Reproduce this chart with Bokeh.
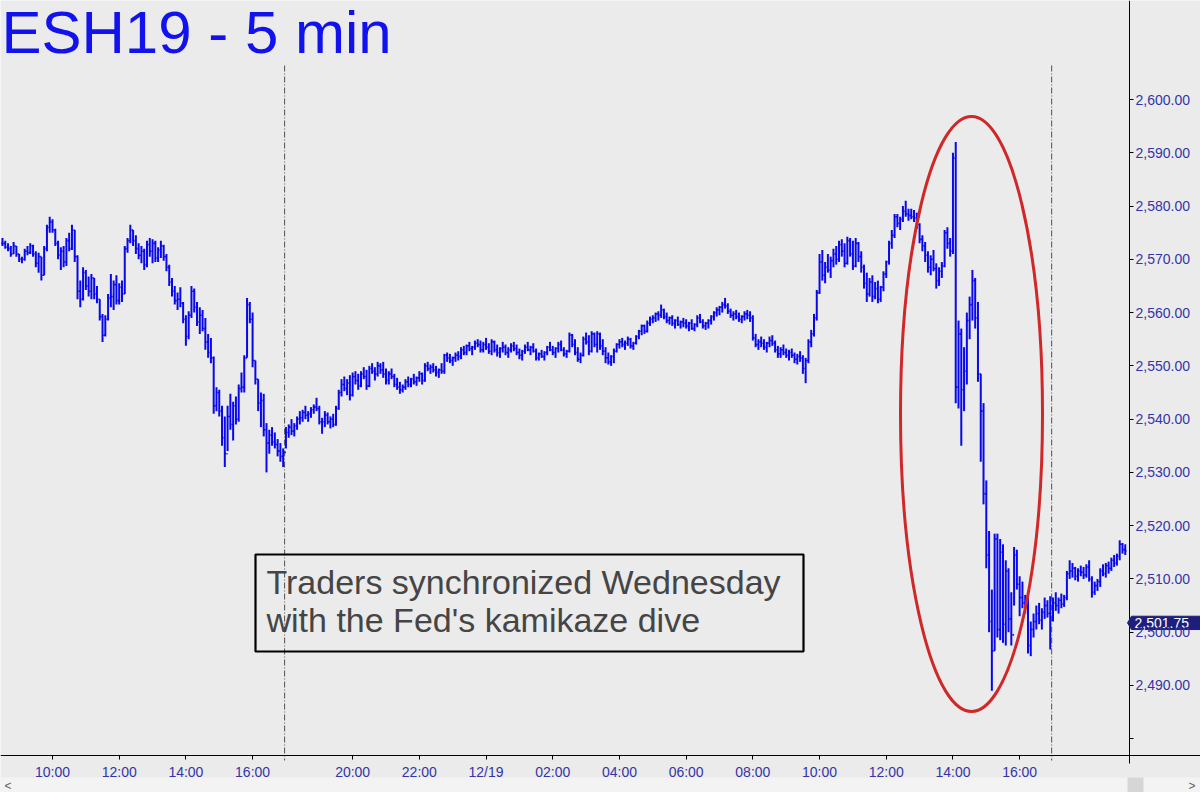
from bokeh.plotting import figure
from bokeh.models import Range1d, FixedTicker, NumeralTickFormatter, LinearAxis, BoxAnnotation
from bokeh.core.properties import value
from bokeh.embed import file_html
from bokeh.resources import INLINE

# ---------------- data: ESH19 5-minute bars (ET) ----------------
# x axis = trading hours since 12/18 00:00 with the daily 17:00-18:00 halt removed
BAR_H = 1.0 / 12.0

# Session A: 12/18 08:30 .. 16:55
s1_start = 8.5
s1_high = [2574, 2573.5, 2573, 2572.5, 2573.25, 2572.5, 2571, 2570.5, 2572, 2572.5,
           2573, 2572.75, 2571.5, 2571.25, 2570.5, 2572.5, 2576.5, 2578, 2577.5, 2575.75,
           2573.5, 2572.25, 2572.5, 2574, 2575, 2576.5, 2575.5, 2570.75, 2566, 2568.5,
           2568, 2566.75, 2567.25, 2566.5, 2565, 2562.5, 2559.75, 2559.5, 2563.5, 2567.25,
           2566, 2567, 2565.5, 2566, 2572.5, 2574, 2576.5, 2575.5, 2574.5, 2573,
           2572.5, 2572, 2573.5, 2574, 2573.75, 2573.5, 2572.25, 2573.5, 2572.75, 2571,
           2569, 2566.5, 2565, 2563.75, 2564.75, 2562, 2559.5, 2560.25, 2565, 2564.5,
           2562, 2561, 2560.5, 2559, 2556, 2555.25, 2551.75, 2546, 2545.5, 2542.5,
           2540.5, 2542.5, 2544.75, 2543.25, 2544.25, 2546.5, 2548.75, 2552, 2562.75, 2562,
           2560, 2551, 2547.5, 2545, 2544.75, 2539.25, 2538, 2538.5, 2537.5, 2536.25,
           2535.5, 2534.5]
s1_low = [2572.5, 2572, 2571.5, 2570.5, 2571, 2570.5, 2569.5, 2569.25, 2569.75, 2570.75,
          2571, 2570.5, 2568.5, 2567.5, 2566, 2567, 2571.5, 2575, 2575, 2572.5,
          2570, 2568, 2568.5, 2568.75, 2571.5, 2571.75, 2569.5, 2562.5, 2561, 2562.25,
          2564.25, 2563, 2562.5, 2562.5, 2561.75, 2558.5, 2554.5, 2555.5, 2558.5, 2561,
          2560.5, 2561.5, 2561.5, 2562, 2563.5, 2571.25, 2573, 2572.5, 2571, 2570,
          2569.25, 2568, 2568.5, 2570.5, 2569.25, 2569.5, 2569.5, 2570.25, 2569.75, 2567.75,
          2565, 2563, 2561.5, 2560.5, 2561, 2558, 2553.75, 2555, 2559, 2560,
          2557.5, 2556, 2556.5, 2553, 2551.5, 2550.5, 2541, 2541.5, 2540.5, 2535,
          2531, 2534, 2538, 2536, 2539, 2539.5, 2545, 2545, 2551.5, 2558,
          2549.75, 2546.5, 2541.5, 2538.5, 2536.75, 2530, 2533.5, 2535, 2534.5, 2533,
          2532, 2531]
s1_close = [2573, 2572.25, 2572, 2571, 2572.5, 2571, 2570, 2570, 2571.5, 2571.25,
            2572.5, 2571, 2569.25, 2570.5, 2567, 2572, 2576, 2577, 2575.5, 2573,
            2570.75, 2571.5, 2569.5, 2573.5, 2572, 2575.5, 2570.5, 2564, 2562.5, 2567.5,
            2565, 2564, 2566.5, 2563.5, 2562.5, 2559.25, 2555.75, 2558.75, 2562.75, 2563,
            2565.25, 2562.25, 2564.75, 2563.5, 2572, 2573.5, 2575.5, 2573.5, 2572, 2570.75,
            2571.5, 2569, 2572.75, 2571.5, 2573, 2570.25, 2571.75, 2572.5, 2570.5, 2568.5,
            2565.75, 2564, 2562.25, 2562.5, 2561.75, 2558.75, 2555.5, 2559.5, 2564, 2561,
            2558.25, 2559.5, 2557, 2554.5, 2552.5, 2551.5, 2542.5, 2545, 2541.5, 2536.5,
            2533.5, 2540.5, 2539, 2542.5, 2540, 2545.75, 2546, 2551.5, 2561.5, 2558.75,
            2551, 2547.5, 2543, 2543.5, 2538, 2535.5, 2537, 2535.75, 2535.25, 2534,
            2533, 2533.75]

# Session B: 12/18 18:00 .. 12/19 16:55
s2_start = 17.0
s2_high = [2538.5, 2539, 2540, 2539.25, 2540.5, 2541.5, 2541.75, 2542.5, 2541.5, 2542.25,
           2542.75, 2544, 2542.5, 2540.25, 2541.5, 2541.25, 2540.5, 2541, 2542.5, 2545.5,
           2547.5, 2548, 2547.5, 2548.25, 2548.75, 2549, 2548.5, 2549, 2549.75, 2549.25,
           2550, 2550.5, 2549.75, 2550.75, 2550.5, 2550.75, 2549.5, 2549, 2549.5, 2548.5,
           2547.75, 2547, 2546.5, 2547.5, 2548, 2547.75, 2548.5, 2548, 2549, 2548.75,
           2550.5, 2550.75, 2550.25, 2550.5, 2550, 2549.5, 2550.5, 2552.25, 2552.5, 2552.25,
           2551.75, 2552.5, 2552.75, 2553.5, 2553.75, 2554, 2554.5, 2553.75, 2554.75, 2555,
           2554.75, 2554.5, 2555.25, 2554.25, 2555, 2554.75, 2554, 2553.5, 2554.5, 2554,
           2553.5, 2554.25, 2554.5, 2554, 2553.25, 2553, 2554, 2554.5, 2553.75, 2554.25,
           2553.25, 2552.5, 2553, 2552.75, 2553.75, 2554.5, 2553.75, 2553.5, 2554.5, 2554.75,
           2553.5, 2553, 2556.25, 2556, 2555, 2553.5, 2552.5, 2555.5, 2556.25, 2555.75,
           2556.5, 2556.25, 2556.5, 2556.25, 2555, 2553.5, 2552.5, 2552, 2553.25, 2554.25,
           2555, 2555.25, 2554.75, 2555.5, 2555.25, 2554.5, 2555.75, 2556.75, 2557.75, 2557.75,
           2558.5, 2559.25, 2559.5, 2560, 2560.25, 2561.5, 2560.75, 2560, 2559.25, 2559.5,
           2558.75, 2559.25, 2558.5, 2559, 2558.75, 2558.25, 2558.75, 2558, 2559.5, 2559.75,
           2558.75, 2558.25, 2558.75, 2559.5, 2560.25, 2561, 2561.25, 2562, 2562.75, 2561.75,
           2560.75, 2560.25, 2560.5, 2560, 2559.5, 2560.25, 2560.5, 2560.25, 2559.5, 2556,
           2555, 2555.5, 2555, 2554.5, 2555.5, 2555.75, 2554.75, 2553.75, 2553.5, 2554,
           2553.25, 2553, 2553.25, 2552.5, 2552.25, 2552.75, 2552, 2551.5, 2555, 2556.75,
           2559.75, 2564.25, 2571, 2571.75, 2569.5, 2571, 2570.5, 2572, 2572.5, 2573.5,
           2573.75, 2573, 2574.25, 2574, 2573.5, 2574, 2573.25, 2571.5, 2569, 2567.5,
           2566.5, 2567, 2565.75, 2566, 2565, 2567.75, 2569.75, 2573.5, 2575.5, 2578.5,
           2578.5, 2578, 2580, 2581, 2579.5, 2579.5, 2579.25, 2578.75, 2576.75, 2574.5,
           2573.25, 2571.5, 2570.75, 2571.75, 2569.25, 2568.5, 2569.5, 2575.5, 2576, 2574,
           2590, 2592, 2558.5, 2557, 2553.5, 2560, 2563, 2568, 2566.5, 2562,
           2548.5, 2543, 2528.5, 2519, 2508, 2518.5, 2518.5, 2517.5, 2516.5, 2513.5,
           2512, 2507.5, 2516, 2515.5, 2510.5, 2509.5, 2507, 2506.5, 2502, 2503.5,
           2505, 2505.5, 2504.5, 2506.5, 2506, 2506.75]
s2_low = [2534.5, 2536.5, 2537, 2536.75, 2538, 2539, 2539.5, 2540, 2539.5, 2540.25,
          2541, 2541.5, 2539, 2537.25, 2538.5, 2539, 2538.25, 2538.5, 2538.75, 2541.75,
          2544.25, 2545.25, 2544.5, 2543.5, 2544.25, 2546.5, 2545.5, 2546, 2547.5, 2545.5,
          2546, 2548.5, 2547.25, 2548, 2548.5, 2547.75, 2546.5, 2546.5, 2547.5, 2546,
          2545.5, 2544.75, 2545, 2545.5, 2546, 2546, 2546.5, 2546.25, 2547, 2546.5,
          2547, 2549, 2548.5, 2548.75, 2548, 2547.75, 2548.5, 2548.5, 2550.75, 2550.5,
          2550, 2550.75, 2551, 2551.25, 2552, 2552, 2552.75, 2552, 2553, 2553.5,
          2552.5, 2552.5, 2553, 2552.25, 2552, 2552.5, 2551.75, 2551.5, 2552.5, 2552,
          2551.5, 2552.5, 2552.75, 2552, 2551.25, 2551, 2552.25, 2552.75, 2552, 2552.5,
          2551, 2551, 2551.5, 2551, 2552, 2552.75, 2552, 2551.5, 2552.5, 2552.75,
          2551.75, 2551.5, 2552.5, 2553.5, 2552, 2550.75, 2550.5, 2551.75, 2554, 2552,
          2552.5, 2553.5, 2552.5, 2553, 2552, 2550.5, 2550.25, 2550, 2550.5, 2552.5,
          2553.25, 2553.5, 2553, 2553.75, 2553.25, 2553, 2554, 2555, 2555.75, 2556,
          2556.25, 2557.5, 2558, 2558.25, 2558.5, 2559, 2558.75, 2558, 2557.75, 2557.5,
          2557, 2557.5, 2557, 2557.25, 2557, 2556.5, 2556.75, 2556.5, 2557.25, 2558,
          2557, 2556.75, 2557, 2557.75, 2558.5, 2559.25, 2559.5, 2560, 2560.75, 2559.75,
          2559, 2558.5, 2558.75, 2558.25, 2558, 2558.5, 2558.75, 2558.25, 2554.75, 2553.5,
          2553, 2553.5, 2553, 2552.5, 2553.5, 2553.75, 2552.5, 2551.5, 2551.5, 2552,
          2551.5, 2551, 2551.5, 2550.5, 2550.25, 2550.75, 2548.5, 2546.75, 2550.5, 2553.5,
          2555.5, 2558.5, 2563.5, 2566, 2565.5, 2567.5, 2566.5, 2568.5, 2569, 2569.5,
          2570.5, 2568.5, 2569, 2570.5, 2568, 2568.5, 2569.5, 2567.5, 2564.5, 2562,
          2563, 2562, 2562.5, 2561.75, 2562, 2564, 2566.5, 2569, 2572, 2574,
          2576, 2575.5, 2577, 2578, 2577.25, 2577.5, 2577, 2575.75, 2573, 2571.5,
          2569.5, 2567.5, 2567, 2567.75, 2564.5, 2565, 2566.5, 2568.5, 2572, 2570.5,
          2571, 2543, 2542, 2535, 2541.5, 2546.5, 2555, 2558.5, 2557, 2547,
          2532, 2524, 2512, 2500, 2489, 2496.5, 2499, 2498.5, 2498, 2497.5,
          2500, 2497.5, 2505, 2508, 2503, 2504.5, 2503.5, 2496, 2495.5, 2499,
          2500.5, 2501.5, 2500.5, 2502.5, 2502.75, 2496.75]
s2_close = [2537.5, 2538.5, 2537.75, 2538.75, 2540, 2540.25, 2541.25, 2540.75, 2541, 2541.75,
            2542.25, 2542, 2539.5, 2539.5, 2540.75, 2539.5, 2540, 2539, 2542, 2545,
            2546.5, 2545.75, 2546.75, 2544.5, 2548, 2547.25, 2546.25, 2548.5, 2548, 2546.25,
            2549.5, 2549, 2548.5, 2550, 2549.25, 2548.5, 2547.25, 2548.5, 2548, 2546.5,
            2546, 2545.5, 2546, 2547, 2546.5, 2547.5, 2547, 2547.75, 2548.5, 2547.25,
            2550, 2549.5, 2549.75, 2549.25, 2548.75, 2549.25, 2549, 2552, 2551.5, 2551,
            2551.5, 2552, 2551.75, 2553, 2552.5, 2553.75, 2553.25, 2553.5, 2554.25, 2554,
            2553, 2554, 2553.5, 2552.75, 2554.5, 2553, 2552.5, 2553.25, 2553.5, 2552.5,
            2553, 2553.75, 2553.25, 2552.5, 2552, 2552.75, 2553.5, 2553, 2553.5, 2552.75,
            2551.5, 2552.25, 2551.75, 2552.5, 2553.5, 2553, 2552.5, 2553.25, 2554, 2553,
            2552.25, 2552.75, 2555.75, 2554, 2552.5, 2551.25, 2552, 2555, 2554.5, 2552.75,
            2556, 2554, 2556, 2553.75, 2552.75, 2551.5, 2550.75, 2551.75, 2552.75, 2554,
            2554.5, 2554, 2554.25, 2555, 2553.75, 2554.25, 2555.5, 2556.5, 2557.5, 2556.5,
            2558, 2558.75, 2559, 2559.75, 2559.5, 2560.5, 2559.25, 2558.5, 2559, 2558,
            2558.5, 2557.75, 2558.25, 2558, 2557.5, 2558, 2557, 2557.75, 2559, 2558.25,
            2557.5, 2558, 2558.5, 2559.25, 2560, 2560.5, 2561, 2561.5, 2561.25, 2560.25,
            2559.5, 2559.75, 2559.25, 2558.75, 2559.25, 2559.75, 2559.5, 2559, 2555.25, 2554,
            2554.5, 2554.25, 2553.5, 2554.25, 2554.75, 2554.25, 2553, 2552.25, 2553, 2552.5,
            2552, 2552.5, 2552, 2551.25, 2551.75, 2551.5, 2549.5, 2551, 2554.5, 2556,
            2559, 2563.75, 2569.5, 2567, 2568.5, 2568, 2569.75, 2571, 2570, 2572.75,
            2571.5, 2569.25, 2573.5, 2571, 2568.75, 2573, 2570.5, 2568.5, 2565.5, 2563.5,
            2565.75, 2563, 2564.5, 2562.5, 2564.75, 2567.25, 2569.5, 2573, 2574.5, 2578,
            2576.75, 2577.5, 2579, 2578.5, 2578.25, 2578, 2577.75, 2576.5, 2573.75, 2572.5,
            2570.75, 2568.5, 2570, 2568.25, 2566, 2567.75, 2568.75, 2575, 2573, 2571.5,
            2589, 2546, 2556, 2545.5, 2549, 2558.5, 2561.5, 2566, 2559, 2548.5,
            2541.5, 2526, 2514.5, 2502, 2496.5, 2517.5, 2500.5, 2515, 2501.5, 2511.5,
            2502.5, 2499.5, 2514.5, 2509, 2506.5, 2505.5, 2506, 2497.5, 2500.5, 2502,
            2503.5, 2502.25, 2503.75, 2505, 2503.5, 2506]

# Session C: 12/19 18:00 ..
s3_start = 40.0
s3_high = [2506.5, 2507.5, 2506.5, 2507.25, 2507, 2511.5, 2513.5, 2513, 2512.25, 2512,
           2512.5, 2512.25, 2512.75, 2513.5, 2510.5, 2509.5, 2510, 2512, 2512.75, 2513,
           2513.25, 2514, 2514.5, 2514.75, 2517.25, 2516.75, 2516.5]
s3_low = [2502, 2504, 2503.5, 2504.5, 2504.75, 2506, 2510, 2510.25, 2509.75, 2509.5,
          2510.5, 2510, 2510.25, 2509.5, 2506.5, 2507, 2507.75, 2508.5, 2510.5, 2510.25,
          2511, 2511.5, 2512.25, 2512.5, 2513.5, 2514.75, 2514.5]
s3_close = [2505.5, 2505, 2506, 2505.25, 2506.5, 2511, 2511.5, 2512, 2510.5, 2511.5,
            2511.25, 2510.75, 2512.25, 2510, 2507.5, 2508.75, 2509.5, 2511.5, 2511, 2512.5,
            2512, 2513.5, 2513, 2514.25, 2516.5, 2515.5, 2515.25]

session_breaks = [16.96, 39.96]
last_price = 2501.75
last_price_text = "2,501.75"

time_ticks = [10, 12, 14, 16, 19, 21, 23, 25, 27, 29, 31, 33, 35, 37, 39]
time_labels = ["10:00", "12:00", "14:00", "16:00", "20:00", "22:00", "12/19", "02:00",
               "04:00", "06:00", "08:00", "10:00", "12:00", "14:00", "16:00"]
price_ticks = [2480, 2490, 2500, 2510, 2520, 2530, 2540, 2550, 2560, 2570, 2580, 2590, 2600]

title_text = "ESH19 - 5 min"
note_lines = ["Traders synchronized Wednesday", "with the Fed's kamikaze dive"]

# ---------------- assemble bars ----------------
t, hi, lo, op, cl = [], [], [], [], []
prev = s1_close[0]
for start, H, L, C in [(s1_start, s1_high, s1_low, s1_close),
                       (s2_start, s2_high, s2_low, s2_close),
                       (s3_start, s3_high, s3_low, s3_close)]:
    for i in range(len(H)):
        t.append(start + i * BAR_H)
        hi.append(H[i]); lo.append(L[i]); cl.append(C[i]); op.append(prev)
        prev = C[i]

# helpers that place annotations at reference-pixel spots
def X(px):
    return 10 + (px - 52) / 33.35

def Y(py):
    return 2600 - (py - 99) / 5.327

BG = "#ebebeb"
BAR = "#0808ea"
AXC = "#3434a8"
FONT = "Liberation Sans"
AXIS_X_PX = 1129     # price scale line
AXIS_Y_PX = 754.5    # time scale line

p = figure(frame_width=1200, frame_height=792,
           x_range=Range1d(X(0), X(1200)), y_range=Range1d(Y(792), Y(0)),
           x_axis_location=None, y_axis_location=None,
           output_backend="svg", toolbar_location=None,
           min_border_left=0, min_border_top=0, min_border_right=0, min_border_bottom=0,
           background_fill_color=BG, border_fill_color=BG, outline_line_color=None)
p.xgrid.visible = False
p.ygrid.visible = False

# axes drawn at fixed spots inside the frame
xax = LinearAxis(fixed_location=Y(AXIS_Y_PX), ticker=FixedTicker(ticks=time_ticks),
                 major_label_overrides={tk: lb for tk, lb in zip(time_ticks, time_labels)})
yax = LinearAxis(fixed_location=X(AXIS_X_PX), ticker=FixedTicker(ticks=price_ticks),
                 formatter=NumeralTickFormatter(format="0,0.00"),
                 major_label_overrides={2480: ""})
for ax in (xax, yax):
    ax.axis_line_color = "black"
    ax.major_tick_line_color = "black"
    ax.major_tick_in = 0
    ax.major_tick_out = 4
    ax.minor_tick_line_color = None
    ax.major_label_text_color = AXC
    ax.major_label_text_font = FONT
    ax.major_label_text_font_size = "14px"
yax.major_label_standoff = 2
yax.axis_line_color = None
xax.major_label_standoff = 5
p.add_layout(xax, "below")
p.add_layout(yax, "right")
# price-scale line stops just below the time scale
p.segment(x0=[X(AXIS_X_PX)], y0=[Y(0)], x1=[X(AXIS_X_PX)], y1=[Y(763)],
          line_color="black", line_width=1)

# session separators
p.segment(x0=session_breaks, y0=[Y(65)] * 2, x1=session_breaks, y1=[Y(760)] * 2,
          line_color="#505050", line_width=1, line_dash="6 2 1 2")

# OHLC bars
tick = 0.036
p.segment(x0=t, y0=lo, x1=t, y1=hi, line_color=BAR, line_width=2)
p.segment(x0=[v - tick for v in t], y0=op, x1=t, y1=op, line_color=BAR, line_width=1.6)
p.segment(x0=t, y0=cl, x1=[v + tick for v in t], y1=cl, line_color=BAR, line_width=1.6)

# red ellipse around the Fed drop
p.ellipse(x=[X(971)], y=[Y(413.5)], width=[142 / 33.35], height=[595 / 5.327],
          fill_color=None, line_color="#d02828", line_width=3)

# text box
p.add_layout(BoxAnnotation(left=X(255), right=X(803), top=Y(554), bottom=Y(651),
                           fill_color=None, line_color="black", line_width=2.2,
                           line_alpha=1))
p.text(x=[X(266)] * 2, y=[Y(595 - 13.3), Y(633 - 13.3)], text=note_lines,
       text_color="#454545", text_font=value(FONT), text_font_size="34px",
       text_baseline="alphabetic")

# title
p.text(x=[X(1)], y=[Y(55 - 23)], text=[title_text], text_color="#1212ee",
       text_font=value(FONT), text_font_size="60px", text_baseline="alphabetic")

# last price flag on the price scale
fl, fr, ftip = X(1131), X(1200), X(1127)
p.patch(x=[ftip, fl, fr, fr, fl], y=[last_price, last_price + 1.25, last_price + 1.25,
                                      last_price - 1.25, last_price - 1.25],
        fill_color="#1e1e7c", line_color="#1e1e7c")
p.text(x=[X(1134)], y=[last_price], text=[last_price_text], text_color="white",
       text_font=value(FONT), text_font_size="14px", text_baseline="middle")

# scrollbar strip at the bottom of the chart window
p.quad(left=[X(0)], right=[X(1200)], top=[Y(777)], bottom=[Y(792)],
       fill_color="#f3f3f3", line_color=None)
p.quad(left=[X(1127)], right=[X(1143)], top=[Y(777)], bottom=[Y(792)],
       fill_color="#d6d6d6", line_color=None)
p.text(x=[X(4), X(1188)], y=[Y(785), Y(785)], text=["<", ">"], text_color="#606060",
       text_font=value(FONT), text_font_size="12px", text_baseline="middle")

open("out.html", "w").write(file_html(p, INLINE))
